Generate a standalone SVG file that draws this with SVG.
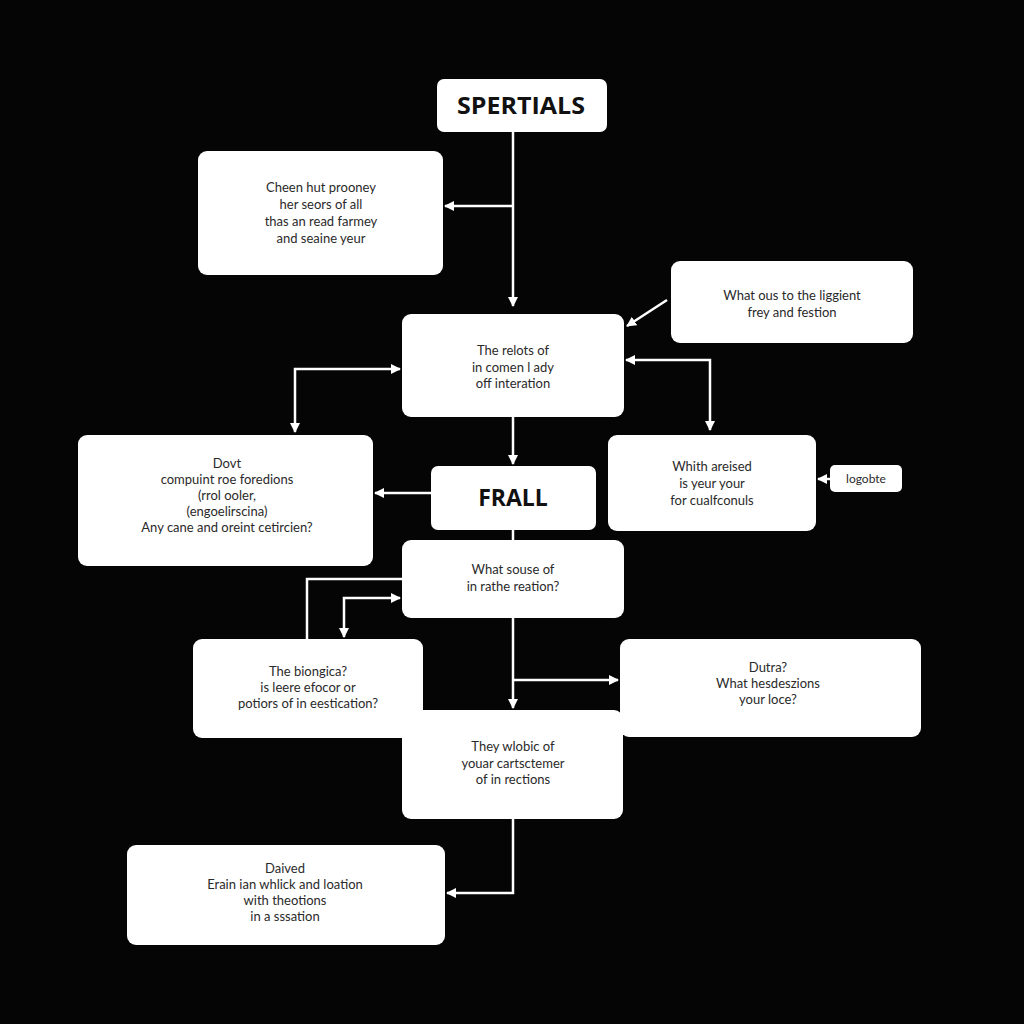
<svg xmlns="http://www.w3.org/2000/svg" width="1024" height="1024" viewBox="0 0 1024 1024">
<defs>
<marker id="ah" viewBox="0 0 10 10" refX="9" refY="5" markerWidth="10" markerHeight="10" markerUnits="userSpaceOnUse" orient="auto-start-reverse">
<path d="M0,0 L10,5 L0,10 z" fill="#fff"/>
</marker>
<style>
.box{fill:#fff;}
.t{font-family:Lato,"Open Sans",sans-serif;font-size:13px;fill:#2a2a2a;text-anchor:middle;}
.b{font-family:"Open Sans",Lato,sans-serif;font-size:23px;font-weight:bold;fill:#111;text-anchor:middle;}
.c{fill:none;stroke:#fff;stroke-width:2.5;}
</style>
</defs>
<rect width="1024" height="1024" fill="#050505"/>
<g id="connectors">
<path class="c" d="M513,132 V306" marker-end="url(#ah)"/>
<path class="c" d="M513,206 H445" marker-end="url(#ah)"/>
<path class="c" d="M667,300 L627,326" marker-end="url(#ah)"/>
<path class="c" d="M626,360 H710 V430" marker-start="url(#ah)" marker-end="url(#ah)"/>
<path class="c" d="M400,369 H295 V432" marker-start="url(#ah)" marker-end="url(#ah)"/>
<path class="c" d="M513,417 V464" marker-end="url(#ah)"/>
<path class="c" d="M431,493 H375" marker-end="url(#ah)"/>
<path class="c" d="M513,530 V540"/>
<path class="c" d="M830,479 H818" marker-end="url(#ah)"/>
<path class="c" d="M402,579 H307 V639"/>
<path class="c" d="M400,598 H344 V637" marker-start="url(#ah)" marker-end="url(#ah)"/>
<path class="c" d="M513,618 V708" marker-end="url(#ah)"/>
<path class="c" d="M513,680 H618" marker-end="url(#ah)"/>
<path class="c" d="M513,819 V893 H447" marker-end="url(#ah)"/>
</g>
<g id="spertials"><rect class="box" x="437" y="79" width="170" height="53" rx="7"/><text class="b" x="521" y="114" textLength="128" lengthAdjust="spacingAndGlyphs">SPERTIALS</text></g>
<g id="n1"><rect class="box" x="198" y="151" width="245" height="124" rx="9"/>
<text class="t" x="321" y="192">Cheen hut prooney</text><text class="t" x="321" y="209">her seors of all</text><text class="t" x="321" y="226">thas an read farmey</text><text class="t" x="321" y="243">and seaine yeur</text></g>
<g id="n2"><rect class="box" x="402" y="314" width="222" height="103" rx="9"/>
<text class="t" x="513" y="355">The relots of</text><text class="t" x="513" y="372">in comen l ady</text><text class="t" x="513" y="388">off interation</text></g>
<g id="n3"><rect class="box" x="671" y="261" width="242" height="82" rx="9"/>
<text class="t" x="792" y="300">What ous to the liggient</text><text class="t" x="792" y="317">frey and festion</text></g>
<g id="n4"><rect class="box" x="78" y="435" width="295" height="131" rx="9"/>
<text class="t" x="227" y="468">Dovt</text><text class="t" x="227" y="484">compuint roe foredions</text><text class="t" x="227" y="500">(rrol ooler,</text><text class="t" x="227" y="516">(engoelirscina)</text><text class="t" x="227" y="532">Any cane and oreint cetircien?</text></g>
<g id="frall"><rect class="box" x="431" y="466" width="165" height="64" rx="7"/><text class="b" x="513" y="506">FRALL</text></g>
<g id="n5"><rect class="box" x="608" y="435" width="208" height="96" rx="9"/>
<text class="t" x="712" y="471">Whith areised</text><text class="t" x="712" y="488">is yeur your</text><text class="t" x="712" y="505">for cualfconuls</text></g>
<g id="logobte"><rect class="box" x="830" y="465" width="72" height="27" rx="5"/><text class="t" x="866" y="483" style="font-size:12px">logobte</text></g>
<g id="n6"><rect class="box" x="402" y="540" width="222" height="78" rx="9"/>
<text class="t" x="513" y="574">What souse of</text><text class="t" x="513" y="591">in rathe reation?</text></g>
<g id="n7"><rect class="box" x="193" y="639" width="230" height="99" rx="9"/>
<text class="t" x="308" y="676">The biongica?</text><text class="t" x="308" y="692">is leere efocor or</text><text class="t" x="308" y="708">potiors of in eestication?</text></g>
<g id="n8"><rect class="box" x="620" y="639" width="301" height="98" rx="9"/>
<text class="t" x="768" y="672">Dutra?</text><text class="t" x="768" y="688">What hesdeszions</text><text class="t" x="768" y="704">your loce?</text></g>
<g id="n9"><rect class="box" x="402" y="710" width="221" height="109" rx="9"/>
<text class="t" x="513" y="751">They wlobic of</text><text class="t" x="513" y="768">youar cartsctemer</text><text class="t" x="513" y="784">of in rections</text></g>
<g id="n10"><rect class="box" x="127" y="845" width="318" height="100" rx="9"/>
<text class="t" x="285" y="873">Daived</text><text class="t" x="285" y="889">Erain ian whlick and loation</text><text class="t" x="285" y="905">with theotions</text><text class="t" x="285" y="921">in a sssation</text></g>
</svg>
